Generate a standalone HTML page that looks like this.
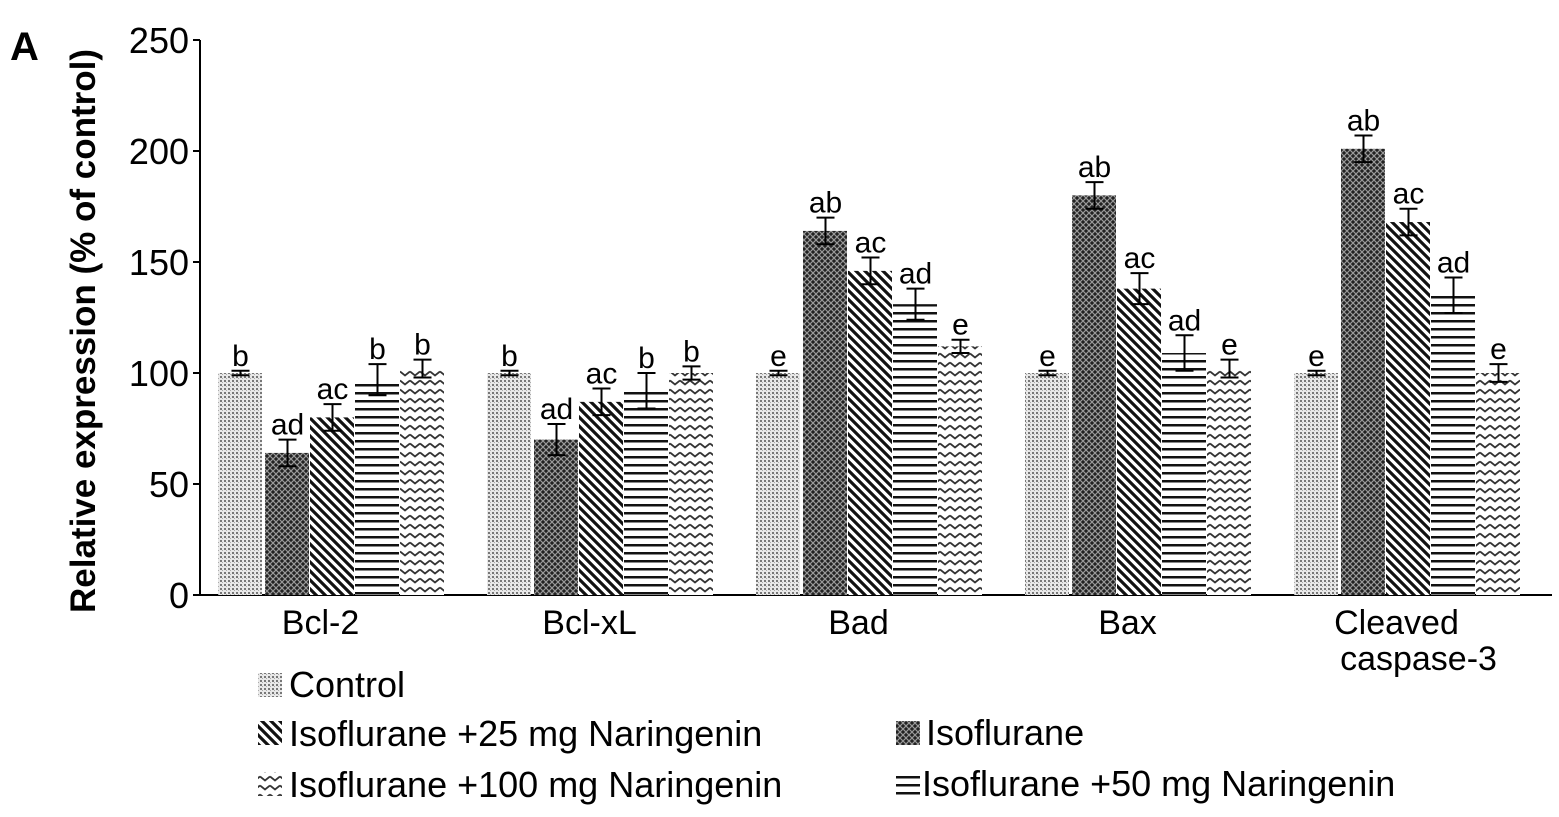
<!DOCTYPE html>
<html><head><meta charset="utf-8"><style>
body{margin:0;background:#fff;}
svg{display:block;font-family:"Liberation Sans",Arial,sans-serif;}
</style></head><body>
<svg id="chart" width="1559" height="817" viewBox="0 0 1559 817">
<defs>
<pattern id="p0" width="4" height="4" patternUnits="userSpaceOnUse"><rect width="4" height="4" fill="#e8e8e8"/><rect x="0" y="0" width="2" height="2" fill="#777"/><rect x="2" y="2" width="1" height="1" fill="#aaa"/></pattern>
<pattern id="p1" width="6" height="6" patternUnits="userSpaceOnUse"><rect width="6" height="6" fill="#222"/><path d="M0 0L6 6M6 0L0 6" stroke="#999" stroke-width="1.2"/></pattern>
<pattern id="p2" width="9" height="9" patternUnits="userSpaceOnUse"><rect width="9" height="9" fill="#fff"/><path d="M-2 -2L11 11M-2 7L2 11M7 -2L11 2" stroke="#111" stroke-width="3.2"/></pattern>
<pattern id="p3" width="8" height="8" patternUnits="userSpaceOnUse"><rect width="8" height="8" fill="#fff"/><rect y="0" width="8" height="2.5" fill="#111"/></pattern>
<pattern id="p4" width="10" height="9" patternUnits="userSpaceOnUse"><rect width="10" height="9" fill="#fff"/><path d="M0 2.5L5 6.5L10 2.5" stroke="#333" stroke-width="1.8" fill="none"/></pattern>
</defs>
<text x="10" y="60" font-size="40" font-weight="bold">A</text>
<text transform="translate(95,331) rotate(-90)" text-anchor="middle" font-size="35" font-weight="bold">Relative expression (% of control)</text>
<g id="axes"></g>
<g id="bars"></g>
<g id="legend" font-size="36">
<rect x="258" y="673" width="24" height="24" fill="url(#p0)"/>
<text x="289" y="697">Control</text>
<rect x="258" y="721" width="24" height="24" fill="url(#p2)"/>
<text x="289" y="746">Isoflurane +25 mg Naringenin</text>
<rect x="258" y="772" width="24" height="24" fill="url(#p4)"/>
<text x="289" y="797">Isoflurane +100 mg Naringenin</text>
<rect x="896" y="721" width="24" height="24" fill="url(#p1)"/>
<text x="926" y="745">Isoflurane</text>
<rect x="896" y="772" width="24" height="24" fill="url(#p3)"/>
<text x="922" y="796">Isoflurane +50 mg Naringenin</text>
</g>
</svg>
<script>
const categories=["Bcl-2","Bcl-xL","Bad","Bax","Cleaved caspase-3"];
const control=[100,100,100,100,100];
const isoflurane=[64,70,164,180,201];
const nar25=[80,87,146,138,168];
const nar50=[97,92,131,109,135];
const nar100=[102,100,112,102,100];
const errors=[[1,6,6,7,4],[1,7,6,8,3],[1,6,6,7,3],[1,6,7,8,4],[1,6,6,8,4]];
const letters=[["b","ad","ac","b","b"],["b","ad","ac","b","b"],["e","ab","ac","ad","e"],["e","ab","ac","ad","e"],["e","ab","ac","ad","e"]];
const yTicks=[0,50,100,150,200,250];
const NS="http://www.w3.org/2000/svg";
const y0=595,ppu=2.22;
const y=v=>y0-v*ppu;
const groupX=i=>218+i*269;
const barW=45;
const series=[control,isoflurane,nar25,nar50,nar100];
const axes=document.getElementById('axes'),bars=document.getElementById('bars');
function mk(p,tag,attrs){const e=document.createElementNS(NS,tag);for(const k in attrs)e.setAttribute(k,attrs[k]);p.appendChild(e);return e;}
const yl=mk(axes,'line',{x1:200,y1:y(250),x2:200,y2:y0,stroke:'#000','stroke-width':2});


const xl=mk(axes,'line',{x1:200,y1:y0,x2:1552,y2:y0,stroke:'#000','stroke-width':2});


yTicks.forEach(t=>{
 mk(axes,'line',{x1:193,y1:y(t),x2:200,y2:y(t),stroke:'#000','stroke-width':2});
 const tx=mk(axes,'text',{x:189,y:y(t)+13,'text-anchor':'end','font-size':36});
 tx.textContent=t;
 
 
});
categories.forEach((c,i)=>{
 const cx=groupX(i)+2.5*barW-10;
 const tx=mk(axes,'text',{x:cx,y:634,'text-anchor':'middle','font-size':34});
 
 
 if(c==="Cleaved caspase-3"){tx.textContent="Cleaved";const t2=mk(axes,'text',{x:cx+22,y:670,'text-anchor':'middle','font-size':34});t2.textContent="caspase-3";
 
 }
 else tx.textContent=c;
 series.forEach((s,j)=>{
  const x=groupX(i)+j*barW+(j>0?2:0);
  const v=s[i];
  const r=mk(bars,'rect',{x:x,y:y(v),width:barW-1,height:y0-y(v),fill:'url(#p'+j+')'});
  
  
  const e=errors[i][j],mx=x+barW/2;
  mk(bars,'line',{x1:mx,y1:y(v+e),x2:mx,y2:y(v-e),stroke:'#000','stroke-width':2});
  mk(bars,'line',{x1:mx-9,y1:y(v+e),x2:mx+9,y2:y(v+e),stroke:'#000','stroke-width':2});
  mk(bars,'line',{x1:mx-9,y1:y(v-e),x2:mx+9,y2:y(v-e),stroke:'#000','stroke-width':2});
  const lt=mk(bars,'text',{x:mx,y:y(v+e)-5,'text-anchor':'middle','font-size':30});
  lt.textContent=letters[i][j];
  
  
 });
});
</script>
</body></html>
